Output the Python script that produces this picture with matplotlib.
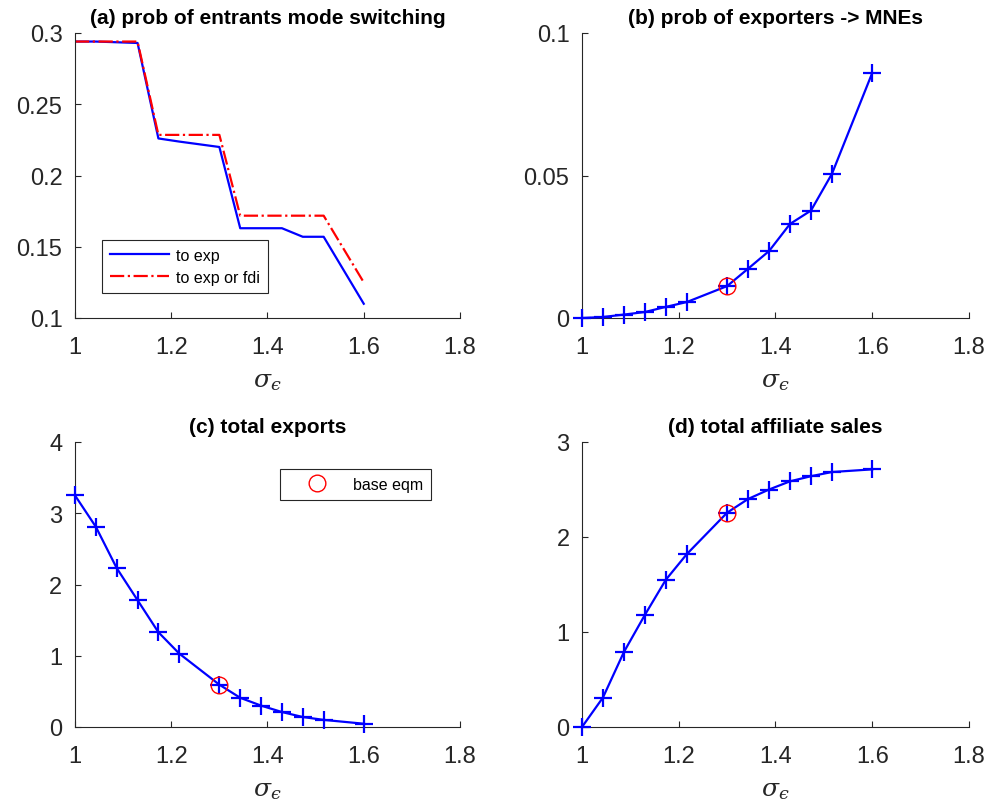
import numpy as np
import matplotlib.pyplot as plt

plt.rcParams['font.family'] = ['Liberation Sans', 'DejaVu Sans']
plt.rcParams['mathtext.fontset'] = 'dejavuserif'

# dispersion grid (sigma_epsilon)
sigma = [1.0, 1.0433, 1.0867, 1.13, 1.1733, 1.2167, 1.3,
         1.3433, 1.3867, 1.43, 1.4733, 1.5167, 1.6]
sigma_base = 1.3

# (a) entrant mode switching probabilities
switch_exp = [0.294, 0.294, 0.2935, 0.293, 0.226, 0.2238, 0.220,
              0.163, 0.163, 0.163, 0.157, 0.157, 0.110]
switch_exp_fdi = [0.294, 0.294, 0.294, 0.294, 0.2285, 0.2285, 0.2285,
                  0.1718, 0.1718, 0.1718, 0.1718, 0.1718, 0.125]

# (b) exporters -> MNEs
exp_to_mne = [0.0, 0.00035, 0.0012, 0.0021, 0.0039, 0.0056, 0.0112,
              0.0173, 0.0235, 0.033, 0.0377, 0.0506, 0.086]

# (c) total exports
tot_exports = [3.25, 2.81, 2.23, 1.78, 1.33, 1.03, 0.594,
               0.41, 0.30, 0.21, 0.14, 0.10, 0.046]

# (d) total affiliate sales
tot_affil = [0.0, 0.31, 0.79, 1.18, 1.55, 1.82, 2.256,
             2.40, 2.50, 2.586, 2.64, 2.684, 2.712]

base_idx = sigma.index(sigma_base)
axcol = '#262626'

fig = plt.figure(figsize=(9.95, 8.12), dpi=100)
W, H = 995, 812
boxes = {'a': (75, 34, 460, 319), 'b': (582, 34, 969, 319),
         'c': (75, 443, 460, 728), 'd': (582, 443, 969, 728)}
axs = {}
for k, (l, t, r, b) in boxes.items():
    axs[k] = fig.add_axes([l / W, 1 - b / H, (r - l) / W, (b - t) / H])


def style(ax, ylim, yticks, title):
    ax.set_xlim(1, 1.8)
    ax.set_xticks([1, 1.2, 1.4, 1.6, 1.8])
    ax.set_xticklabels(['1', '1.2', '1.4', '1.6', '1.8'])
    ax.set_ylim(*ylim)
    ax.set_yticks(yticks)
    ax.set_yticklabels([('%g' % v) for v in yticks])
    for s in ('top', 'right'):
        ax.spines[s].set_visible(False)
    for s in ('left', 'bottom'):
        ax.spines[s].set_color(axcol)
        ax.spines[s].set_linewidth(0.8)
    ax.tick_params(direction='in', length=4, width=0.8, colors=axcol,
                   labelsize=17, labelcolor=axcol)
    ax.tick_params(axis='x', pad=13)
    ax.tick_params(axis='y', pad=9)
    ax.set_xlabel('$\\sigma_ϵ$', fontsize=18, color=axcol, labelpad=7)
    ax.set_title(title, fontsize=15, fontweight='bold', pad=7)


def curve(ax, y):
    ax.plot(sigma, y, color='#0000ff', lw=1.6, marker='+', ms=13, mew=1.6,
            clip_on=False, zorder=3)
    h, = ax.plot([sigma_base], [y[base_idx]], 'o', mfc='none', mec='#ff0000',
                 ms=12, mew=1.0, zorder=4, label='base eqm')
    return h


ax = axs['a']
ax.plot(sigma, switch_exp, color='#0000ff', lw=1.6, label='to exp')
ax.plot(sigma, switch_exp_fdi, color='#ff0000', lw=1.6, ls='-.',
        label='to exp or fdi')
style(ax, (0.1, 0.3), [0.1, 0.15, 0.2, 0.25, 0.3],
      '(a) prob of entrants mode switching')
leg = ax.legend(loc='upper left', bbox_to_anchor=(0.069, 0.274),
                borderaxespad=0, fontsize=11.5, fancybox=False, framealpha=1,
                edgecolor=axcol, handlelength=3.75, borderpad=0.5,
                labelspacing=0.45, handletextpad=0.4)
leg.get_frame().set_linewidth(0.8)

ax = axs['b']
curve(ax, exp_to_mne)
style(ax, (0, 0.1), [0, 0.05, 0.1], '(b) prob of exporters -> MNEs')

ax = axs['c']
h = curve(ax, tot_exports)
style(ax, (0, 4), [0, 1, 2, 3, 4], '(c) total exports')
leg = ax.legend(handles=[h], loc='upper left',
                bbox_to_anchor=(0.532, 0.905), borderaxespad=0,
                fontsize=11.5, fancybox=False, framealpha=1, edgecolor=axcol,
                handlelength=3.6, borderpad=0.5, handletextpad=0.5)
leg.get_frame().set_linewidth(0.8)

ax = axs['d']
curve(ax, tot_affil)
style(ax, (0, 3), [0, 1, 2, 3], '(d) total affiliate sales')

fig.savefig('out.png', dpi=100)
